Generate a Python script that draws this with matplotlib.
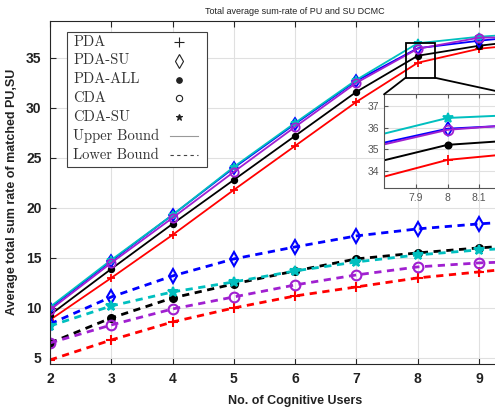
import matplotlib
matplotlib.use("Agg")
import matplotlib.pyplot as plt
from matplotlib.patches import Rectangle, ConnectionPatch

## Donnees
users = [2, 3, 4, 5, 6, 7, 8, 9, 10]

# Upper bound (traits pleins)
pda_up    = [8.8, 13.0, 17.3, 21.8, 26.2, 30.6, 34.5, 35.9, 36.5]
pdasu_up  = [10.0, 14.7, 19.3, 24.0, 28.4, 32.7, 35.95, 36.7, 37.3]
pdaall_up = [9.3, 13.9, 18.4, 22.8, 27.2, 31.6, 35.2, 36.2, 36.9]
cda_up    = [9.8, 14.5, 19.0, 23.6, 28.1, 32.5, 35.9, 37.0, 37.1]
cdasu_up  = [10.1, 14.8, 19.3, 24.1, 28.5, 32.8, 36.45, 37.1, 37.5]

# Lower bound (pointilles)
pda_lo    = [4.8, 6.8, 8.6, 10.0, 11.2, 12.1, 13.0, 13.6, 14.2]
pdasu_lo  = [8.4, 11.1, 13.2, 14.9, 16.1, 17.2, 17.9, 18.4, 18.8]
pdaall_lo = [6.5, 9.0, 11.0, 12.4, 13.7, 14.9, 15.5, 16.0, 16.4]
cda_lo    = [6.5, 8.3, 9.9, 11.1, 12.3, 13.3, 14.1, 14.5, 14.7]
cdasu_lo  = [8.2, 10.2, 11.6, 12.6, 13.7, 14.6, 15.3, 15.8, 16.1]

legend_labels = ["PDA", "PDA-SU", "PDA-ALL", "CDA", "CDA-SU", "Upper Bound", "Lower Bound"]

RED = "#ff0000"
BLUE = "#0000ff"
BLACK = "#000000"
MAG = "#a020d0"
CYAN = "#00bfbf"

series = [
    (pda_up, pda_lo, RED, "+", "full"),
    (pdaall_up, pdaall_lo, BLACK, ".", "full"),
    (pdasu_up, pdasu_lo, BLUE, "d", "none"),
    (cdasu_up, cdasu_lo, CYAN, "*", "full"),
    (cda_up, cda_lo, MAG, "o", "none"),
]

plt.rcParams['font.family'] = ['Liberation Sans', 'DejaVu Sans']

fig = plt.figure(figsize=(4.95, 4.11), dpi=100)
ax = fig.add_axes([0.101, 0.1144, 0.9907, 0.8352])

for up, lo, c, mk, fill in series:
    ms = 8 if mk == "." else 6
    mfc = "none" if fill == "none" else c
    ax.plot(users, up, color=c, lw=1.3, marker=mk, ms=ms, mfc=mfc, mew=1.3)
for up, lo, c, mk, fill in series:
    ms = 10 if mk == "." else 7
    mfc = "none" if fill == "none" else c
    ax.plot(users, lo, color=c, lw=2.0, ls=(0, (2.6, 2.0)), marker=mk, ms=ms, mfc=mfc, mew=1.5)

ax.set_xlim(2, 10)
ax.set_ylim(4.4, 38.7)
ax.set_xticks(users[:-1])
ax.set_yticks([5, 10, 15, 20, 25, 30, 35])
ax.grid(True, color="#e0e0e0", lw=0.8)
ax.set_axisbelow(True)
ax.tick_params(direction="in", top=True, right=True, length=4, width=0.8, colors="#262626",
               labelsize=10, labelcolor="#222222", pad=6)
for lab in ax.get_xticklabels() + ax.get_yticklabels():
    lab.set_fontweight("bold")
for s in ax.spines.values():
    s.set_color("#262626")
    s.set_linewidth(0.8)

ax.set_xlabel("No. of Cognitive Users", fontsize=9, fontweight="bold", color="#222222", labelpad=6)
ax.set_ylabel("Average total sum rate of matched PU,SU", fontsize=9, fontweight="bold",
              color="#222222", labelpad=6)
ax.set_title("Total average sum-rate of PU and SU DCMC", fontsize=6.5, color="#222222", pad=5)

# legende faite a la main : texte a gauche, symbole noir a droite
def px2ax(px, py):
    return (px - 50) / 490.4, (364 - py) / 343.3

x0, y0 = px2ax(67, 166.7)
x1, y1 = px2ax(207, 31.7)
ax.add_patch(Rectangle((x0, y0), x1 - x0, y1 - y0, transform=ax.transAxes, fill=True,
                       fc="white", ec="#404040", lw=0.8, zorder=6))
leg_markers = [("+", 7, "full"), ("d", 7, "none"), (".", 8, "full"), ("o", 4.5, "none"), ("*", 5, "full")]
for i, lab in enumerate(legend_labels):
    py = 41.7 + i * 18.9
    tx, ty = px2ax(73.3, py)
    ax.text(tx, ty, lab, transform=ax.transAxes, family="cmr10", fontsize=10.5,
            color="#333333", va="center", ha="left", zorder=7)
    if i < 5:
        mk, ms, fill = leg_markers[i]
        mx, my = px2ax(179.3, py)
        ax.plot([mx], [my], transform=ax.transAxes, ls="none", marker=mk, ms=ms, color="#222222",
                mfc="none" if fill == "none" else "#222222", mew=0.8, zorder=7, clip_on=False)
    else:
        ax_a, ay = px2ax(170, py)
        ax_b, _ = px2ax(198, py)
        ls = "-" if i == 5 else (0, (3, 3))
        lc = "#999999" if i == 5 else "#444444"
        ax.plot([ax_a, ax_b], [ay, ay], transform=ax.transAxes, ls=ls, color=lc, lw=0.8,
                zorder=7, clip_on=False)

# zoom autour de x = 8
ax.add_patch(Rectangle((7.8, 33.0), 0.48, 3.5, fill=False, ec="black", lw=1.3, zorder=5))

axin = fig.add_axes([0.7758, 0.543, 0.2566, 0.2275])
for up, lo, c, mk, fill in series:
    ms = 9 if mk == "." else 7
    mfc = "none" if fill == "none" else c
    axin.plot(users, up, color=c, lw=1.4, marker=mk, ms=ms, mfc=mfc, mew=1.3)
axin.set_xlim(7.8, 8.2)
axin.set_ylim(33.2, 37.55)
axin.set_xticks([7.9, 8, 8.1])
axin.set_xticklabels(["7.9", "8", "8.1"])
axin.set_yticks([34, 35, 36, 37])
axin.grid(True, color="#e0e0e0", lw=0.8)
axin.tick_params(direction="in", top=True, right=True, length=3, colors="#555555",
                 labelsize=7.5, labelcolor="#555555")
for s in axin.spines.values():
    s.set_color("#555555")
    s.set_linewidth(0.8)

for xa, xb in [((7.8, 33.0), (0, 1)), ((8.28, 33.0), (1, 1))]:
    con = ConnectionPatch(xyA=xa, coordsA=ax.transData, xyB=xb, coordsB=axin.transAxes,
                          color="black", lw=1.3)
    fig.add_artist(con)

fig.savefig("out.png", dpi=100)
